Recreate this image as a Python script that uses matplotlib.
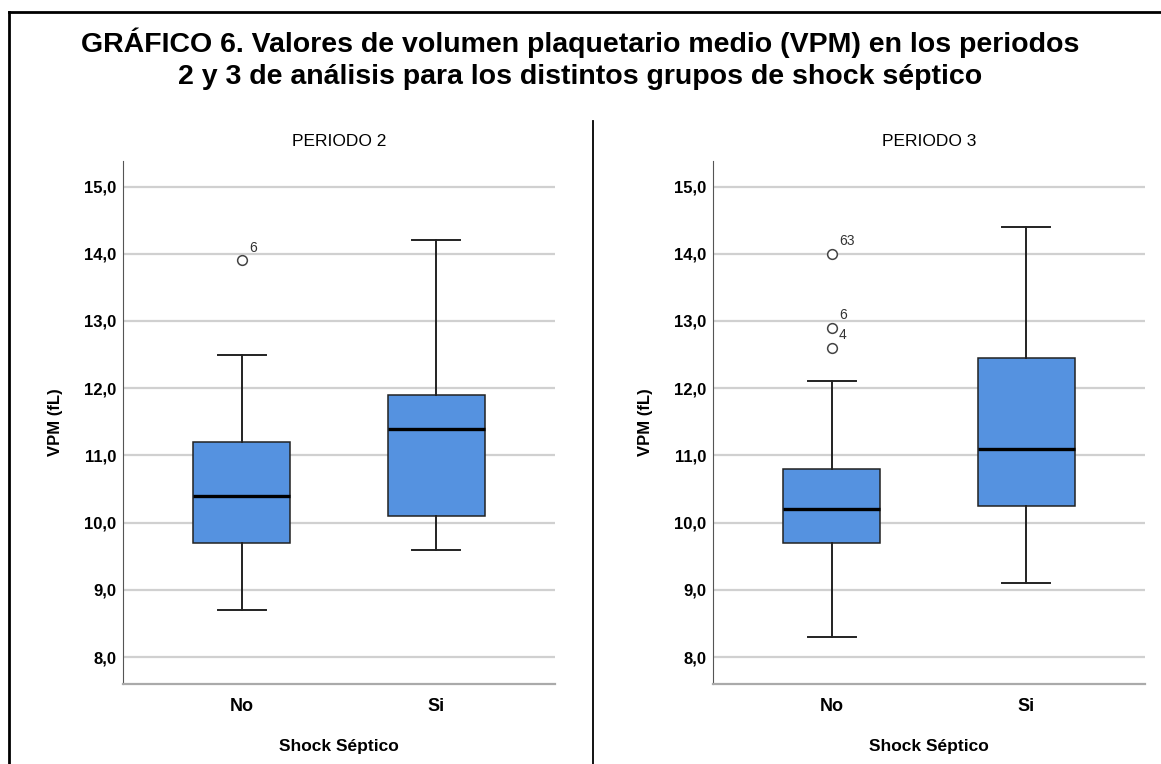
import matplotlib
matplotlib.use("Agg")
import matplotlib.pyplot as plt
from matplotlib.lines import Line2D

plt.rcParams['font.family'] = ['Liberation Sans', 'DejaVu Sans']

TITLE = ("GRÁFICO 6. Valores de volumen plaquetario medio (VPM) en los periodos\n"
         "2 y 3 de análisis para los distintos grupos de shock séptico")
PANELS = ["PERIODO 2", "PERIODO 3"]
GROUPS = ["No", "Si"]

# box stats per panel: [whislo, q1, med, q3, whishi] for No, Si
p2_no = [8.7, 9.7, 10.4, 11.2, 12.5]
p2_si = [9.6, 10.1, 11.4, 11.9, 14.2]
p3_no = [8.3, 9.7, 10.2, 10.8, 12.1]
p3_si = [9.1, 10.25, 11.1, 12.45, 14.4]

# outliers: (value, case label)
p2_no_out = [(13.9, "6")]
p3_no_out = [(14.0, "63"), (12.9, "6"), (12.6, "4")]

yticks = [8.0, 9.0, 10.0, 11.0, 12.0, 13.0, 14.0, 15.0]
BOX_COLOR = '#5592e0'


def make_stats(vals, outs):
    lo, q1, med, q3, hi = vals
    return dict(whislo=lo, q1=q1, med=med, q3=q3, whishi=hi,
                fliers=[o[0] for o in outs])


fig = plt.figure(figsize=(11.61, 7.64), dpi=100)

# frame lines and separator
fig.add_artist(Line2D([9 / 1161, 1], [1 - 12 / 764, 1 - 12 / 764], color='black', lw=2))
fig.add_artist(Line2D([9 / 1161, 9 / 1161], [0, 1 - 12 / 764], color='black', lw=2))
fig.add_artist(Line2D([593 / 1161, 593 / 1161], [0, 1 - 121 / 764], color='black', lw=1.3))

fig.text(0.5, 1 - 59 / 764, TITLE, ha='center', va='center', fontsize=20.5,
         fontweight='bold', linespacing=1.32)

panel_data = [
    (p2_no, p2_no_out, p2_si, []),
    (p3_no, p3_no_out, p3_si, []),
]
lefts = [123 / 1161, 713 / 1161]

for i, (no_vals, no_out, si_vals, si_out) in enumerate(panel_data):
    ax = fig.add_axes([lefts[i], 1 - 684 / 764, 432 / 1161, 523 / 764])
    stats = [make_stats(no_vals, no_out), make_stats(si_vals, si_out)]
    ax.bxp(stats, positions=[1, 2], widths=0.5, patch_artist=True,
           showfliers=True, capwidths=0.25,
           boxprops=dict(facecolor=BOX_COLOR, edgecolor='#222222', linewidth=1.1),
           medianprops=dict(color='black', linewidth=2.4),
           whiskerprops=dict(color='#222222', linewidth=1.4),
           capprops=dict(color='#222222', linewidth=1.4),
           flierprops=dict(marker='o', markersize=7, markerfacecolor='white',
                           markeredgecolor='#444444', markeredgewidth=1.1))
    for val, lab in no_out:
        ax.annotate(lab, (1, val), xytext=(5, 4), textcoords='offset points',
                    fontsize=10, color='#333333', ha='left', va='bottom')

    ax.set_xlim(0.387, 2.613)
    ax.set_ylim(7.6, 15.38)
    ax.set_yticks(yticks)
    ax.set_yticklabels([f"{t:.1f}".replace('.', ',') for t in yticks],
                       fontsize=12, fontweight='bold')
    ax.set_xticks([1, 2])
    ax.set_xticklabels(GROUPS, fontsize=13, fontweight='bold')
    ax.tick_params(axis='y', length=0, pad=5)
    ax.tick_params(axis='x', length=0, pad=10)
    ax.yaxis.grid(True, color='#d0d0d0', linewidth=1.6)
    ax.set_axisbelow(True)
    for s in ['top', 'right']:
        ax.spines[s].set_visible(False)
    ax.spines['left'].set_color('#555555')
    ax.spines['bottom'].set_color('#aaaaaa')
    ax.spines['bottom'].set_linewidth(1.6)
    ax.set_title(PANELS[i], fontsize=12.5, pad=11)
    ax.set_ylabel("VPM (fL)", fontsize=12, fontweight='bold', labelpad=15)
    ax.set_xlabel("Shock Séptico", fontsize=12.5, fontweight='bold', labelpad=17)

fig.savefig("out.png", dpi=100)
